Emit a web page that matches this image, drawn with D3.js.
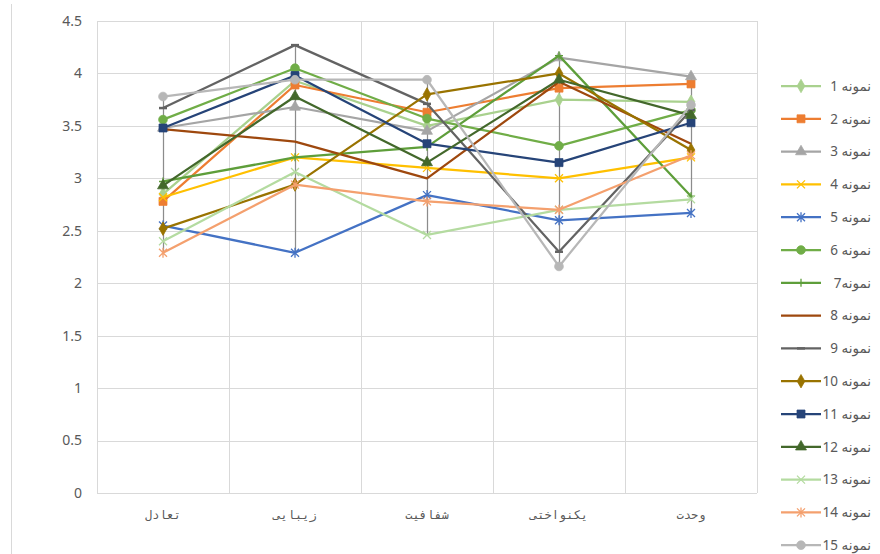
<!DOCTYPE html>
<html>
<head>
<meta charset="utf-8">
<script src="https://cdn.jsdelivr.net/npm/d3@7"></script>
<style>
  body { margin: 0; background: #fff; }
  svg { font-family: "Noto Sans", "DejaVu Sans", sans-serif; }
</style>
</head>
<body>
<svg id="chart" width="880" height="554"></svg>
<script>
const categories = ['تعادل', 'زیبایی', 'شفافیت', 'یکنواختی', 'وحدت'];
const seriesNames = [
  'نمونه 1', 'نمونه 2', 'نمونه 3', 'نمونه 4', 'نمونه 5',
  'نمونه 6', 'نمونه7', 'نمونه 8', 'نمونه 9', 'نمونه 10',
  'نمونه 11', 'نمونه 12', 'نمونه 13', 'نمونه 14', 'نمونه 15'
];
const seriesValues = [
  [2.85, 3.93, 3.50, 3.75, 3.73],
  [2.78, 3.89, 3.63, 3.86, 3.90],
  [3.48, 3.68, 3.45, 4.15, 3.97],
  [2.82, 3.20, 3.10, 3.00, 3.20],
  [2.55, 2.29, 2.84, 2.60, 2.67],
  [3.56, 4.05, 3.57, 3.31, 3.65],
  [2.97, 3.20, 3.30, 4.17, 2.83],
  [3.47, 3.35, 3.00, 3.92, 3.33],
  [3.67, 4.27, 3.71, 2.30, 3.65],
  [2.52, 2.94, 3.80, 4.00, 3.27],
  [3.48, 3.98, 3.33, 3.15, 3.53],
  [2.93, 3.78, 3.15, 3.94, 3.60],
  [2.40, 3.06, 2.46, 2.70, 2.80],
  [2.29, 2.94, 2.78, 2.70, 3.22],
  [3.78, 3.94, 3.94, 2.16, 3.70]
];
const seriesColors = [
  '#a9d18e', '#ed7d31', '#a5a5a5', '#ffc000', '#4472c4',
  '#70ad47', '#5e9e3a', '#9e480e', '#636363', '#997300',
  '#264478', '#43682b', '#b4dba0', '#f4a06e', '#b7b7b7'
];
const seriesMarkers = [
  'diamond', 'square', 'triangle', 'x', 'star',
  'circle', 'plus', 'none', 'dash', 'diamond',
  'square', 'triangle', 'x', 'star', 'circle'
];
const yTicks = [0, 0.5, 1, 1.5, 2, 2.5, 3, 3.5, 4, 4.5];

const svg = d3.select('#chart');
const plot = { left: 97, right: 757, top: 21, bottom: 493 };

const x = d3.scaleBand().domain(categories).range([plot.left, plot.right]);
const y = d3.scaleLinear().domain([0, 4.5]).range([plot.bottom, plot.top]);
const cx = c => x(c) + x.bandwidth() / 2;

// chart-area left border
svg.append('line')
  .attr('x1', 11.5).attr('x2', 11.5).attr('y1', 4).attr('y2', 554)
  .attr('stroke', '#d9d9d9').attr('stroke-width', 1);

// horizontal gridlines
svg.append('g').selectAll('line')
  .data(yTicks)
  .join('line')
  .attr('x1', plot.left).attr('x2', plot.right)
  .attr('y1', d => Math.round(y(d)) + 0.5).attr('y2', d => Math.round(y(d)) + 0.5)
  .attr('stroke', '#d9d9d9').attr('stroke-width', 1);

// vertical gridlines at category boundaries
const bounds = categories.map(c => x(c)).concat([plot.right]);
svg.append('g').selectAll('line')
  .data(bounds)
  .join('line')
  .attr('x1', d => Math.round(d) + 0.5).attr('x2', d => Math.round(d) + 0.5)
  .attr('y1', plot.top).attr('y2', plot.bottom)
  .attr('stroke', '#d9d9d9').attr('stroke-width', 1);

// y tick labels
svg.append('g').selectAll('text')
  .data(yTicks)
  .join('text')
  .attr('x', 82)
  .attr('y', d => y(d))
  .attr('dy', '0.35em')
  .attr('text-anchor', 'end')
  .attr('font-size', 14)
  .attr('fill', '#595959')
  .text(d => d);

// category labels
svg.append('g').selectAll('text')
  .data(categories)
  .join('text')
  .attr('x', d => cx(d))
  .attr('y', 519)
  .attr('text-anchor', 'middle')
  .attr('font-size', 12)
  .attr('font-family', '"DejaVu Sans Mono", monospace')
  .attr('fill', '#595959')
  .text(d => d);

// high-low lines
svg.append('g').selectAll('line')
  .data(categories)
  .join('line')
  .attr('x1', d => Math.round(cx(d)) + 0.5).attr('x2', d => Math.round(cx(d)) + 0.5)
  .attr('y1', (d, i) => y(d3.max(seriesValues, s => s[i])))
  .attr('y2', (d, i) => y(d3.min(seriesValues, s => s[i])))
  .attr('stroke', '#8c8c8c').attr('stroke-width', 1.25);

// marker drawing
function drawMarker(g, type, color, size) {
  const s = size / 2;
  if (type === 'none') return;
  if (type === 'diamond' || type === 'square' || type === 'triangle' || type === 'circle') {
    const t = { diamond: d3.symbolDiamond, square: d3.symbolSquare, triangle: d3.symbolTriangle, circle: d3.symbolCircle }[type];
    const area = { diamond: 52, square: 64, triangle: 52, circle: 60 }[type] * (size / 8) * (size / 8);
    g.append('path').attr('d', d3.symbol(t, area)()).attr('fill', color).attr('stroke', color).attr('stroke-width', 0.75);
  } else if (type === 'x') {
    g.append('path').attr('d', `M${-s},${-s}L${s},${s}M${-s},${s}L${s},${-s}`)
      .attr('stroke', color).attr('stroke-width', 1.3).attr('fill', 'none');
  } else if (type === 'star') {
    g.append('path').attr('d', `M${-s},${-s}L${s},${s}M${-s},${s}L${s},${-s}M0,${-s - 1}L0,${s + 1}`)
      .attr('stroke', color).attr('stroke-width', 1.3).attr('fill', 'none');
  } else if (type === 'plus') {
    g.append('path').attr('d', `M${-s},0L${s},0M0,${-s}L0,${s}`)
      .attr('stroke', color).attr('stroke-width', 1.3).attr('fill', 'none');
  } else if (type === 'dash') {
    g.append('path').attr('d', `M${-s},0L${s},0`)
      .attr('stroke', color).attr('stroke-width', 2.5).attr('fill', 'none');
  }
}

// series lines + markers
const line = d3.line().x((d, i) => cx(categories[i])).y(d => y(d));
seriesValues.forEach((vals, si) => {
  const g = svg.append('g');
  g.append('path')
    .attr('d', line(vals))
    .attr('fill', 'none')
    .attr('stroke', seriesColors[si])
    .attr('stroke-width', 2.25)
    .attr('stroke-linejoin', 'round');
  vals.forEach((v, i) => {
    const m = g.append('g').attr('transform', `translate(${cx(categories[i])},${y(v)})`);
    drawMarker(m, seriesMarkers[si], seriesColors[si], 8);
  });
});

// legend
const legend = svg.append('g');
seriesNames.forEach((name, i) => {
  const ly = 86 + i * 32.8;
  const item = legend.append('g').attr('transform', `translate(0,${ly})`);
  item.append('line')
    .attr('x1', 781).attr('x2', 821).attr('y1', 0).attr('y2', 0)
    .attr('stroke', seriesColors[i]).attr('stroke-width', 2.25);
  const m = item.append('g').attr('transform', 'translate(801,0)');
  drawMarker(m, seriesMarkers[i], seriesColors[i], 8);
  item.append('text')
    .attr('x', 871)
    .attr('y', 0)
    .attr('dy', '0.35em')
    .attr('text-anchor', 'end')
    .attr('font-size', 13.5)
    .attr('fill', '#595959')
    .text('\u2067' + name + '\u2069');
});
</script>
</body>
</html>
